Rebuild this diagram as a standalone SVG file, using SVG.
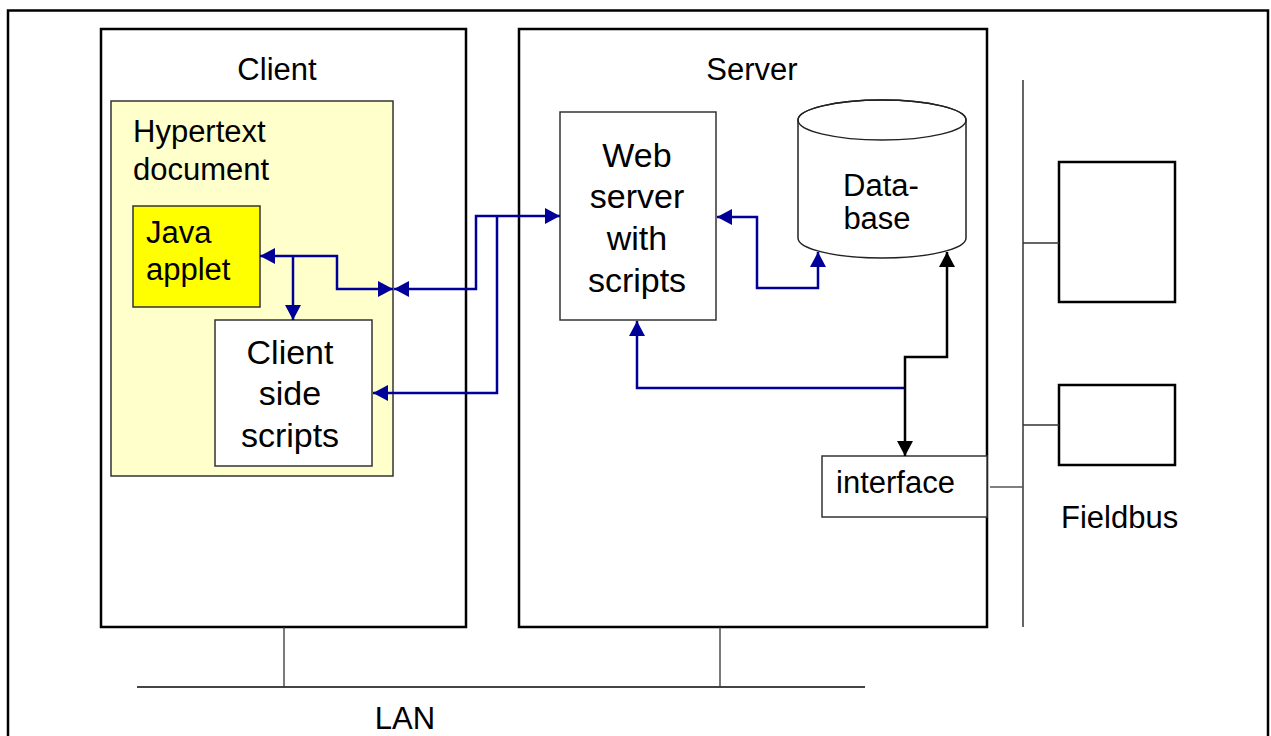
<svg xmlns="http://www.w3.org/2000/svg" width="1271" height="736" viewBox="0 0 1271 736">
<style>
text{font-family:"Liberation Sans",Arial,sans-serif;fill:#000}
.lbl{font-size:31px}
.big{font-size:34px}
.frame{fill:none;stroke:#000;stroke-width:2.5}
.box{fill:#fff;stroke:#000;stroke-width:2.5}
.thin{fill:#fff;stroke:#333;stroke-width:1.5}
.blue{fill:none;stroke:#000099;stroke-width:2.5}
.blk{fill:none;stroke:#000;stroke-width:2.5}
.net{fill:none;stroke:#333;stroke-width:1.3}
</style>
<defs>
<marker id="ab" viewBox="0 0 15 16" refX="15" refY="8" markerWidth="15" markerHeight="16" markerUnits="userSpaceOnUse" orient="auto-start-reverse"><path d="M0,0 L15,8 L0,16 z" fill="#000099"/></marker>
<marker id="ak" viewBox="0 0 15 16" refX="15" refY="8" markerWidth="15" markerHeight="16" markerUnits="userSpaceOnUse" orient="auto-start-reverse"><path d="M0,0 L15,8 L0,16 z" fill="#000"/></marker>
</defs>
<rect x="0" y="0" width="1271" height="736" fill="#fff"/>
<rect x="8" y="10.5" width="1260" height="760" class="frame"/>

<g id="client">
<rect x="101" y="29" width="365" height="598" class="box"/>
<text x="277" y="80" class="lbl" text-anchor="middle">Client</text>
</g>
<g id="hypertext">
<rect x="111" y="101" width="282" height="375" fill="#FFFFCC" stroke="#333" stroke-width="1.5"/>
<text x="133" y="142" class="lbl">Hypertext</text>
<text x="133" y="180" class="lbl">document</text>
</g>
<g id="java">
<rect x="133" y="206" width="127" height="101" fill="#FFFF00" stroke="#333" stroke-width="1.5"/>
<text x="146" y="243" class="lbl">Java</text>
<text x="146" y="280" class="lbl">applet</text>
</g>
<g id="clientscripts">
<rect x="215" y="320" width="157" height="146" class="thin"/>
<text x="290" y="364" class="big" text-anchor="middle">Client</text>
<text x="290" y="405" class="big" text-anchor="middle">side</text>
<text x="290" y="447" class="big" text-anchor="middle">scripts</text>
</g>
<g id="server">
<rect x="519" y="29" width="468" height="598" class="box"/>
<text x="752" y="80" class="lbl" text-anchor="middle">Server</text>
</g>
<g id="webserver">
<rect x="560" y="112" width="156" height="208" class="thin"/>
<text x="637" y="167" class="big" text-anchor="middle">Web</text>
<text x="637" y="208" class="big" text-anchor="middle">server</text>
<text x="637" y="250" class="big" text-anchor="middle">with</text>
<text x="637" y="292" class="big" text-anchor="middle">scripts</text>
</g>
<g id="database">
<path d="M798,120 A84,20 0 0 1 966,120 V238 A84,20 0 0 1 798,238 Z" fill="#fff" stroke="#222" stroke-width="1.5"/>
<ellipse cx="882" cy="120" rx="84" ry="20" fill="none" stroke="#222" stroke-width="1.5"/>
<text x="881" y="196" class="lbl" text-anchor="middle">Data-</text>
<text x="877" y="229" class="lbl" text-anchor="middle">base</text>
</g>
<g id="interface">
<rect x="822" y="456" width="165" height="61" class="thin"/>
<text x="836" y="493" class="lbl">interface</text>
</g>
<g id="device1">
<rect x="1059" y="162" width="116" height="140" class="box"/>
</g>
<g id="device2">
<rect x="1059" y="385" width="116" height="80" class="box"/>
</g>
<g id="fieldbus">
<line x1="1023" y1="80" x2="1023" y2="627" stroke="#333" stroke-width="1.5"/>
<text x="1061" y="528" class="lbl">Fieldbus</text>
</g>
<g id="lan">
<line x1="137" y1="687" x2="865" y2="687" stroke="#444" stroke-width="2"/>
<text x="405" y="729" class="lbl" text-anchor="middle">LAN</text>
</g>

<g id="connectors">
<line x1="284" y1="627" x2="284" y2="687" class="net"/>
<line x1="720" y1="627" x2="720" y2="687" class="net"/>
<line x1="1023" y1="243" x2="1059" y2="243" class="net"/>
<line x1="1023" y1="425" x2="1059" y2="425" class="net"/>
<line x1="990" y1="487" x2="1023" y2="487" stroke="#555" stroke-width="1.5"/>
<path d="M260,256 H337 V289 H393" class="blue" marker-start="url(#ab)" marker-end="url(#ab)"/>
<path d="M293,256 V320" class="blue" marker-end="url(#ab)"/>
<path d="M394,289 H476 V216 H560" class="blue" marker-start="url(#ab)" marker-end="url(#ab)"/>
<path d="M497,216 V393 H373" class="blue" marker-end="url(#ab)"/>
<path d="M717,217 H757 V288 H818 V252" class="blue" marker-start="url(#ab)" marker-end="url(#ab)"/>
<path d="M637,321 V388 H905" class="blue" marker-start="url(#ab)"/>
<path d="M947,252 V357 H905 V456" class="blk" marker-start="url(#ak)" marker-end="url(#ak)"/>
</g>
</svg>
